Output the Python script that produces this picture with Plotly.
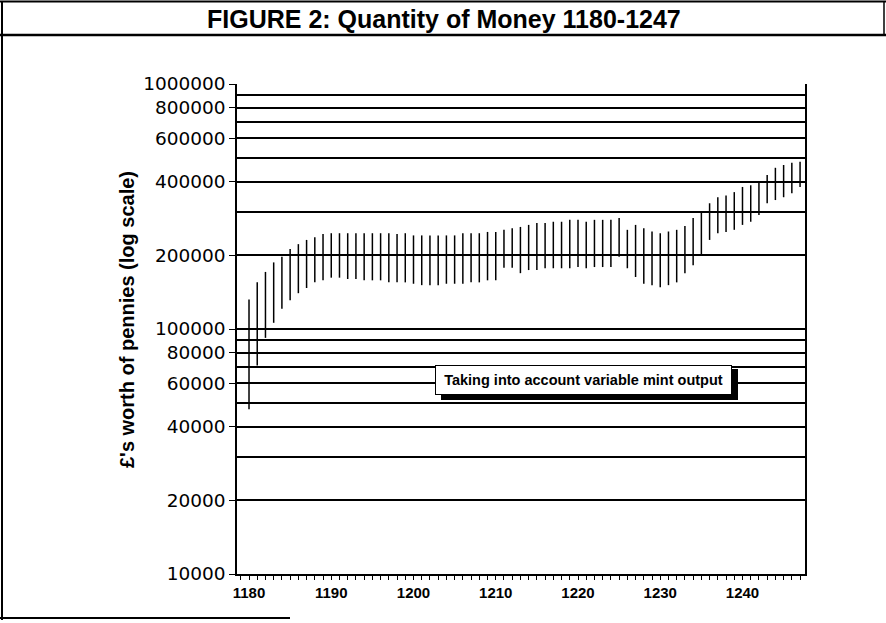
import plotly.graph_objects as go

# ---- data ----
years = list(range(1180, 1248))
high = [132000, 155000, 171000, 187000, 197000, 212000, 222000, 231000, 237000, 244000,
        246000, 246000, 246000, 246000, 246000, 246000, 246000, 246000, 244000, 246000,
        241000, 241000, 241000, 241000, 241000, 241000, 246000, 246000, 246000, 249000,
        249000, 254000, 258000, 261000, 266000, 271000, 271000, 274000, 274000, 279000,
        279000, 274000, 279000, 279000, 279000, 284000, 254000, 266000, 258000, 250000,
        246000, 250000, 254000, 263000, 284000, 303000, 326000, 345000, 351000, 362000,
        380000, 386000, 397000, 425000, 455000, 467000, 477000, 481000]
low = [47000, 71000, 92000, 106000, 121000, 131000, 140000, 147000, 155000, 158000,
       162000, 162000, 160000, 160000, 158000, 158000, 158000, 155000, 155000, 155000,
       153000, 151000, 151000, 151000, 153000, 153000, 153000, 155000, 155000, 158000,
       158000, 178000, 178000, 169000, 174000, 174000, 177000, 177000, 177000, 177000,
       179000, 177000, 179000, 179000, 179000, 197000, 177000, 163000, 153000, 151000,
       148000, 151000, 155000, 169000, 182000, 199000, 231000, 246000, 249000, 254000,
       266000, 274000, 292000, 326000, 336000, 345000, 358000, 380000]

y_tick_vals = [10000, 20000, 40000, 60000, 80000, 100000, 200000, 400000, 600000, 800000, 1000000]
y_tick_text = ["10000", "20000", "40000", "60000", "80000", "100000", "200000",
               "400000", "600000", "800000", "1000000"]
y_grid_vals = [20000, 30000, 40000, 50000, 60000, 70000, 80000, 90000, 100000,
               200000, 300000, 400000, 500000, 600000, 700000, 800000, 900000, 1000000]
x_tick_vals = [1180, 1190, 1200, 1210, 1220, 1230, 1240]
x_tick_text = ["1180", "1190", "1200", "1210", "1220", "1230", "1240"]

title_text = "FIGURE 2: Quantity of Money 1180-1247"
y_title = "£'s worth of pennies (log scale)"
note_text = "Taking into account variable mint output"

# ---- build range bars ----
bx, by = [], []
for yr, lo, hi in zip(years, low, high):
    bx += [yr, yr, None]
    by += [lo, hi, None]

fig = go.Figure()
fig.add_trace(go.Scatter(x=bx, y=by, mode="lines",
                         line=dict(color="black", width=1.5),
                         hoverinfo="skip", showlegend=False))

W, H = 886, 623
L, R, T, B = 237, 81, 84, 49
pw, ph = W - L - R, H - T - B

def px(xp):
    return (xp - L) / pw

def py(yp):
    return (H - B - yp) / ph

fig.update_layout(
    width=W, height=H, autosize=False,
    margin=dict(l=L, r=R, t=T, b=B),
    paper_bgcolor="white", plot_bgcolor="white",
    showlegend=False,
    xaxis=dict(range=[1178.54, 1247.6], tickmode="array", tickvals=x_tick_vals,
               ticktext=x_tick_text, ticks="outside", ticklen=4, tickwidth=1.2,
               tickcolor="black", showgrid=False, zeroline=False,
               showline=True, linecolor="black", linewidth=2,
               tickfont=dict(family="Liberation Sans, Arial, sans-serif", size=15,
                             color="black", weight="bold"),
               minor=dict(dtick=1, ticks="outside", ticklen=4, tickcolor="black",
                          tickwidth=1, showgrid=False)),
    yaxis=dict(type="log", range=[4, 6], tickmode="array", tickvals=y_tick_vals,
               ticktext=y_tick_text, ticks="outside", ticklen=6, tickwidth=1.2,
               tickcolor="black", showgrid=True, gridcolor="black", gridwidth=1.5,
               zeroline=False, showline=True, linecolor="black", linewidth=1.5,
               mirror=True, ticklabelstandoff=0,
               tickfont=dict(family="DejaVu Sans, sans-serif", size=18.5, color="black"),
               minor=dict(tickmode="array", tickvals=y_grid_vals, ticks="",
                          showgrid=True, gridcolor="black", gridwidth=1.5)),
)

# shadow of the note box
fig.add_shape(type="rect", xref="paper", yref="paper",
              x0=px(441), x1=px(738), y0=py(400), y1=py(369),
              fillcolor="black", line=dict(width=0), layer="above")

fig.add_annotation(xref="paper", yref="paper", x=px(583.5), y=py(380),
                   text=note_text, showarrow=False, xanchor="center", yanchor="middle",
                   width=287, height=20, borderpad=4, borderwidth=1,
                   bordercolor="black", bgcolor="white",
                   font=dict(family="Liberation Sans, Arial, sans-serif", size=14.5,
                             color="black", weight="bold"))

# title
fig.add_annotation(xref="paper", yref="paper", x=px(444), y=py(19),
                   text=title_text, showarrow=False, xanchor="center", yanchor="middle",
                   font=dict(family="Liberation Sans, Arial, sans-serif", size=25,
                             color="black", weight="bold"))

# y axis title
fig.add_annotation(xref="paper", yref="paper", x=px(127), y=py(320),
                   text=y_title, showarrow=False, textangle=-90,
                   xanchor="center", yanchor="middle",
                   font=dict(family="Liberation Sans, Arial, sans-serif", size=20,
                             color="black", weight="bold"))

# frame
frame = [
    (px(2), py(1), px(2), py(620), 2),
    (px(0), py(1.5), px(886), py(1.5), 2),
    (px(0), py(35), px(886), py(35), 2.5),
    (px(0), py(618), px(290), py(618), 2),
    (px(884), py(1), px(884), py(35), 1.5),
]
for x0, y0, x1, y1, w in frame:
    fig.add_shape(type="line", xref="paper", yref="paper", x0=x0, y0=y0, x1=x1, y1=y1,
                  line=dict(color="black", width=w))

fig.write_html("out.html", config={"displayModeBar": False},
               post_script="document.body.style.margin='0px';document.body.style.overflow='hidden';")
